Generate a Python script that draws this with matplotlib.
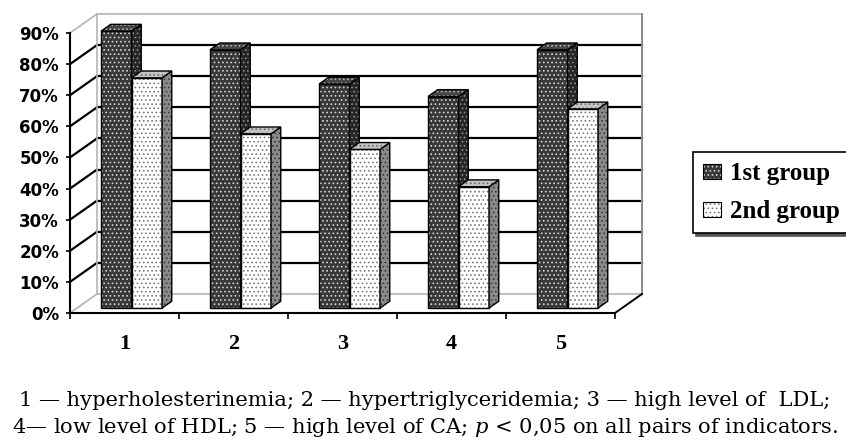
import matplotlib
matplotlib.use("Agg")
import matplotlib.pyplot as plt
from matplotlib.patches import Patch
from matplotlib.legend_handler import HandlerTuple

# values (percent)
categories = ["1", "2", "3", "4", "5"]
group1 = [89, 83, 72, 68, 83]
group2 = [74, 56, 51, 39, 64]
series_names = ["1st group", "2nd group"]
yticks = [0, 10, 20, 30, 40, 50, 60, 70, 80, 90]
ytick_labels = ["0%", "10%", "20%", "30%", "40%", "50%", "60%", "70%", "80%", "90%"]
caption1 = "1 — hyperholesterinemia; 2 — hypertriglyceridemia; 3 — high level of  LDL;"
caption2 = "4— low level of HDL; 5 — high level of CA; $p$ < 0,05 on all pairs of indicators."

plt.rcParams["hatch.linewidth"] = 0.7
plt.rcParams["mathtext.fontset"] = "custom"
plt.rcParams["mathtext.it"] = "DejaVu Serif:italic"
plt.rcParams["mathtext.rm"] = "DejaVu Serif"

W, H = 846, 442
fig = plt.figure(figsize=(W / 100, H / 100), dpi=100)
# front plane of the pseudo-3d box
ax = fig.add_axes([70 / W, 1 - 313 / H, 545 / W, 280 / H])
ax.set_xlim(0, len(categories))
ax.set_ylim(0, 90)

# oblique depth vector for one full unit of depth (27 px right, 19 px up)
KX = 27 / 109.0
KY = 19 / (280 / 90.0)


def proj(x, y, z):
    return x + z * KX, y + z * KY


def face(pts, fc, dotc, zo):
    xs = [p[0] for p in pts]
    ys = [p[1] for p in pts]
    ax.fill(xs, ys, facecolor=fc, edgecolor=dotc, hatch="....", lw=0, clip_on=False, zorder=zo)
    ax.fill(xs, ys, facecolor="none", edgecolor="black", lw=1.0, clip_on=False, zorder=zo)


nc = len(categories)
ymax = yticks[-1]

# back wall
bw = [proj(0, 0, 1), proj(nc, 0, 1), proj(nc, ymax, 1), proj(0, ymax, 1)]
ax.fill([p[0] for p in bw], [p[1] for p in bw], facecolor="white", lw=0, clip_on=False, zorder=0.5)
for y in yticks:
    edge = y in (0, ymax)
    col = "#b4b4b4" if edge else "black"
    lw = 1.2 if edge else 1.6
    a, b = proj(0, y, 1), proj(nc, y, 1)
    ax.plot([a[0], b[0]], [a[1], b[1]], color=col, lw=lw, clip_on=False, zorder=0.6)
    a, b = proj(0, y, 0), proj(0, y, 1)
    ax.plot([a[0], b[0]], [a[1], b[1]], color=col, lw=lw, clip_on=False, zorder=0.6)
a, b = proj(0, 0, 1), proj(0, ymax, 1)
ax.plot([a[0], b[0]], [a[1], b[1]], color="#b4b4b4", lw=1.2, clip_on=False, zorder=0.6)
a, b = proj(nc, 0, 1), proj(nc, ymax, 1)
ax.plot([a[0], b[0]], [a[1], b[1]], color="#8c8c8c", lw=1.4, clip_on=False, zorder=0.6)
a, b = proj(nc, 0, 0), proj(nc, 0, 1)
ax.plot([a[0], b[0]], [a[1], b[1]], color="black", lw=1.4, clip_on=False, zorder=0.6)

# bars
bw_ = 0.28
z0, z1 = 0.26, 0.62
styles = [
    # front, front dots, side, side dots, top, top dots
    ("#383838", "#d4d4d4", "#262626", "#8c8c8c", "#444444", "#b0b0b0"),
    ("#ffffff", "#7a7a7a", "#8a8a8a", "#3a3a3a", "#c4c4c4", "#6a6a6a"),
]
zo = 2
for i in range(nc):
    for s, vals in enumerate([group1, group2]):
        v = vals[i]
        xl = i + 0.22 + s * bw_
        xr = xl + bw_
        st = styles[s]
        fx, fy = proj(xl, 0, z0)
        ax.bar(fx, v, width=bw_, bottom=fy, align="edge", color=st[0], edgecolor=st[1],
               hatch="....", lw=0, clip_on=False, zorder=zo)
        ax.bar(fx, v, width=bw_, bottom=fy, align="edge", fill=False, edgecolor="black",
               lw=1.0, clip_on=False, zorder=zo)
        face([proj(xr, 0, z0), proj(xr, v, z0), proj(xr, v, z1), proj(xr, 0, z1)], st[2], st[3], zo)
        face([proj(xl, v, z0), proj(xr, v, z0), proj(xr, v, z1), proj(xl, v, z1)], st[4], st[5], zo)
        zo += 0.01

# axes
for sp in ("top", "right"):
    ax.spines[sp].set_visible(False)
for sp in ("left", "bottom"):
    ax.spines[sp].set_linewidth(1.5)
    ax.spines[sp].set_zorder(5)
ax.set_yticks(yticks)
ax.set_yticklabels(ytick_labels, fontsize=12, fontweight="bold", family="DejaVu Sans")
ax.tick_params(axis="y", length=3, width=1.2, pad=5)
ax.set_xticks(range(nc + 1))
ax.set_xticklabels([])
ax.tick_params(axis="x", which="major", length=4, width=1.2)
ax.set_xticks([i + 0.5 for i in range(nc)], minor=True)
ax.set_xticklabels(categories, minor=True, fontsize=16, fontweight="bold", family="Liberation Serif")
ax.tick_params(axis="x", which="minor", length=0, pad=15)
ax.patch.set_visible(False)

# legend
h1 = (Patch(facecolor=styles[0][0], edgecolor=styles[0][1], hatch="....", lw=0),
      Patch(facecolor="none", edgecolor="black", lw=0.8))
h2 = (Patch(facecolor=styles[1][0], edgecolor=styles[1][1], hatch="....", lw=0),
      Patch(facecolor="none", edgecolor="black", lw=0.8))
leg = ax.legend([h1, h2], series_names, handler_map={tuple: HandlerTuple(ndivide=1)},
                loc="upper left", bbox_to_anchor=(693 / W, 1 - 152 / H), bbox_transform=fig.transFigure,
                frameon=True, fancybox=False, edgecolor="black", framealpha=1, borderaxespad=0,
                prop={"family": "Liberation Serif", "weight": "bold", "size": 18},
                handlelength=0.72, handleheight=0.56, handletextpad=0.36, labelspacing=0.6,
                borderpad=0.4, shadow={"color": "#555555", "alpha": 1})
leg.get_frame().set_linewidth(1.2)

# caption
fig.text(425 / W, 1 - 406 / H, caption1, ha="center", va="baseline", fontsize=15.1, family="DejaVu Serif")
fig.text(425 / W, 1 - 433 / H, caption2, ha="center", va="baseline", fontsize=15.1, family="DejaVu Serif")

fig.savefig("out.png", dpi=100)
